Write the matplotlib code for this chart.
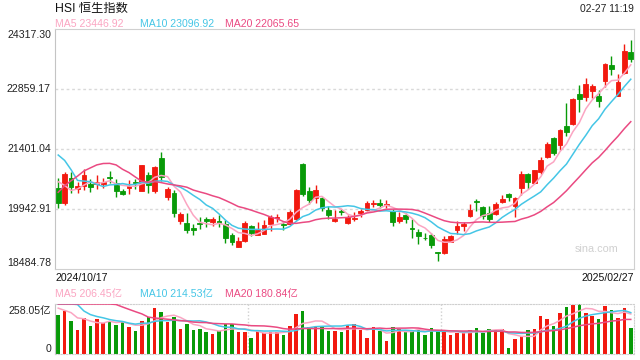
import numpy as np
import pandas as pd
import matplotlib
matplotlib.use('Agg')
import matplotlib.pyplot as plt

plt.rcParams['font.family'] = ['Liberation Sans', 'Noto Sans CJK SC']

# daily candles 2024/10/17 .. 2025/02/27
opens = [20460, 20100, 20700, 20420, 20500, 20560, 20540, 20560, 20720, 20570,
         20390, 20460, 20590, 20390, 20770, 20370, 21180, 20240, 20320, 19660,
         19610, 19490, 19600, 19690, 19620, 19660, 19580, 19300, 19030, 19170,
         19530, 19320, 19340, 19580, 19720, 19590, 19580, 19690, 21040, 20380,
         20200, 20200, 19920, 19650, 19890, 19600, 19690, 19850, 19920, 20070,
         20100, 20030, 19900, 19640, 19800, 19480, 19380, 19250, 19310, 18890,
         18880, 19150, 19440, 19520, 19780, 20130, 19980, 19840, 19830, 20110,
         20300, 20020, 20450, 20800, 20570, 20850, 21210, 21660, 21500, 21950,
         22000, 22740, 22660, 22800, 22700, 23060, 23450, 22700, 23240, 23760]
highs = [20700, 20830, 20830, 20600, 20910, 20665, 20770, 20700, 20870, 20670,
         20420, 20640, 20660, 21010, 20850, 20990, 21340, 20475, 20400, 19860,
         19840, 19580, 19760, 19740, 19760, 19790, 19680, 19350, 19270, 19650,
         19560, 19630, 19680, 19800, 19810, 19640, 19920, 20430, 21070, 20470,
         20530, 20240, 20010, 19920, 19940, 19800, 19880, 19940, 20140, 20160,
         20180, 20170, 19940, 19870, 19840, 19690, 19460, 19370, 19350, 18910,
         19290, 19300, 19640, 19630, 20070, 20180, 20020, 20020, 20120, 20290,
         20320, 20230, 20870, 20820, 20900, 21200, 21560, 21690, 21890, 22510,
         22640, 22960, 23120, 22990, 22840, 23500, 23670, 23230, 23950, 24050]
lows = [19960, 20040, 20340, 20330, 20410, 20365, 20420, 20450, 20570, 20240,
        20280, 20310, 20430, 20370, 20340, 20340, 20630, 20150, 19750, 19590,
        19370, 19310, 19450, 19500, 19540, 19510, 19110, 19080, 19020, 19140,
        19290, 19300, 19330, 19400, 19620, 19430, 19550, 19670, 20270, 20060,
        20080, 19900, 19700, 19620, 19790, 19580, 19660, 19760, 19890, 20000,
        19960, 19970, 19530, 19610, 19600, 19250, 19090, 19200, 19000, 18670,
        18860, 19130, 19330, 19410, 19760, 19900, 19700, 19620, 19790, 20100,
        20140, 19740, 20280, 20430, 20550, 20790, 21180, 21260, 21380, 21710,
        21990, 22310, 22570, 22630, 22410, 22900, 23200, 22680, 23220, 23520]
closes = [20079, 20804, 20478, 20498, 20760, 20489, 20590, 20599, 20701, 20380,
          20317, 20506, 20567, 21006, 20538, 20953, 20728, 20426, 19846, 19823,
          19435, 19426, 19576, 19663, 19705, 19601, 19230, 19151, 19159, 19603,
          19366, 19424, 19550, 19746, 19742, 19560, 19865, 20414, 20311, 20155,
          20397, 19971, 19795, 19700, 19864, 19752, 19720, 19883, 20098, 20090,
          20041, 20060, 19623, 19760, 19688, 19447, 19280, 19240, 19064, 18874,
          19219, 19286, 19522, 19584, 19926, 20106, 19778, 19700, 20066, 20197,
          20225, 20217, 20790, 20597, 20891, 21133, 21522, 21294, 21857, 21815,
          22620, 22616, 22976, 22944, 22577, 23478, 23341, 23035, 23788, 23593]
# volume, 亿
volumes = [203, 222, 172, 125, 186, 146, 182, 160, 172, 151,
           163, 137, 120, 172, 189, 239, 217, 163, 193, 131,
           153, 125, 131, 111, 105, 120, 155, 155, 111, 111,
           84, 124, 108, 115, 111, 100, 146, 208, 223, 137,
           139, 142, 117, 120, 111, 148, 156, 125, 84, 141,
           120, 69, 141, 131, 115, 125, 125, 96, 136, 117,
           117, 96, 108, 108, 125, 136, 106, 131, 125, 131,
           33, 75, 91, 125, 131, 198, 182, 146, 210, 244,
           255, 258.05, 210, 198, 182, 250, 226, 187, 236, 133]

# the 19 sessions before 2024/10/17, only to warm up the moving averages
prev_closes = [17660, 18013, 18258, 18247, 19001, 19129, 19925, 20632, 21134, 22444,
               22114, 22737, 23100, 20927, 20637, 21252, 21093, 20319, 20287]
prev_volumes = [110, 150, 170, 140, 280, 260, 300, 340, 450, 420,
                380, 360, 400, 520, 330, 280, 230, 260, 210]

price_legend = ['MA5 23446.92', 'MA10 23096.92', 'MA20 22065.65']
vol_legend = ['MA5 206.45亿', 'MA10 214.53亿', 'MA20 180.84亿']
y_top, y_bottom = 24317.30, 18484.78

red = '#f2190f'
green = '#089a08'
ma_colors = ['#fba5c2', '#45c6e6', '#ea4a82']
periods = [5, 10, 20]

n = len(closes)
x = np.arange(n)
o = np.array(opens)
c = np.array(closes)
colors = np.where(c >= o, red, green)

close_all = pd.Series(prev_closes + closes)
vol_all = pd.Series(prev_volumes + volumes)

fig = plt.figure(figsize=(6.4, 3.6), dpi=100)
ax = fig.add_axes([55/640, 1-269/360, 579/640, 240/360])
axv = fig.add_axes([55/640, 1-354/360, 579/640, 50/360])

# candles
ax.vlines(x, lows, highs, colors=colors, linewidth=1, zorder=2)
ax.bar(x, np.abs(c - o), bottom=np.minimum(o, c), width=0.75, color=colors,
       edgecolor=colors, linewidth=0.6, zorder=3)
for p, col in zip(periods, ma_colors):
    ma = close_all.rolling(p).mean().to_numpy()[-n:]
    ax.plot(x, ma, color=col, lw=1.1, zorder=4)

ax.set_xlim(-0.5, n - 0.5)
ax.set_ylim(y_bottom, y_top)
ax.set_xticks([])
ax.set_yticks([])
levels = np.linspace(y_bottom, y_top, 5)
for i, lv in enumerate(levels):
    if 0 < i < 4:
        ax.axhline(lv, color='#d9d9d9', lw=1, ls=(0, (2, 2)), zorder=1)
        va = 'center'
    else:
        va = 'bottom' if i == 0 else 'top'
    off = {'center': 0, 'bottom': 0.004, 'top': -0.004}[va]
    ax.text(-0.007, lv + off * (y_top - y_bottom), f'{lv:.2f}', transform=ax.get_yaxis_transform(),
            ha='right', va=va, fontsize=7.6, color='#222222')
for s in ax.spines.values():
    s.set_color('#d0d0d0')
ax.spines['left'].set_color('#c4c4c4')
ax.text(0.935, 0.085, 'sina.com', transform=ax.transAxes, ha='center', va='center',
        fontsize=7.8, color='#d0d0d0')

# volume
vmax = max(volumes)
axv.bar(x, volumes, width=0.55, color=colors, zorder=2)
for p, col in zip(periods, ma_colors):
    ma = vol_all.rolling(p).mean().to_numpy()[-n:]
    axv.plot(x, np.minimum(ma, vmax), color=col, lw=1.1, zorder=3)
axv.set_xlim(-0.5, n - 0.5)
axv.set_ylim(0, vmax)
axv.set_xticks([])
axv.set_yticks([])
for k in (1, 2):
    axv.axvline(-0.5 + n * k / 3, color='#d0d0d0', lw=1, ls=(0, (1, 1.5)), zorder=1)
for side in ('top', 'right', 'bottom'):
    axv.spines[side].set_linestyle((0, (1, 1.5)))
    axv.spines[side].set_color('#cfcfcf')
axv.spines['left'].set_color('#c4c4c4')
axv.text(-0.007, 0.86, '258.05亿', transform=axv.transAxes, ha='right', va='center',
         fontsize=7.6, color='#222222')
axv.text(-0.007, 0.1, '0', transform=axv.transAxes, ha='right', va='center',
         fontsize=7.6, color='#222222')

# header texts
fig.text(55/640, 1-9/360, 'HSI 恒生指数', fontsize=8.8, va='center', color='#111111')
fig.text(634/640, 1-9/360, '02-27 11:19', ha='right', va='center', fontsize=7.4, color='#222222')
for xp, txt, col in zip([55, 140, 225], price_legend, ma_colors):
    fig.text(xp/640, 1-24/360, txt, va='center', fontsize=7.6, color=col)
for xp, txt, col in zip([55, 140, 225], vol_legend, ma_colors):
    fig.text(xp/640, 1-294/360, txt, va='center', fontsize=7.6, color=col)
fig.text(55/640, 1-278/360, '2024/10/17', va='center', fontsize=7.6, color='#111111')
fig.text(634/640, 1-278/360, '2025/02/27', ha='right', va='center', fontsize=7.6, color='#111111')

fig.savefig('out.png', dpi=100)
